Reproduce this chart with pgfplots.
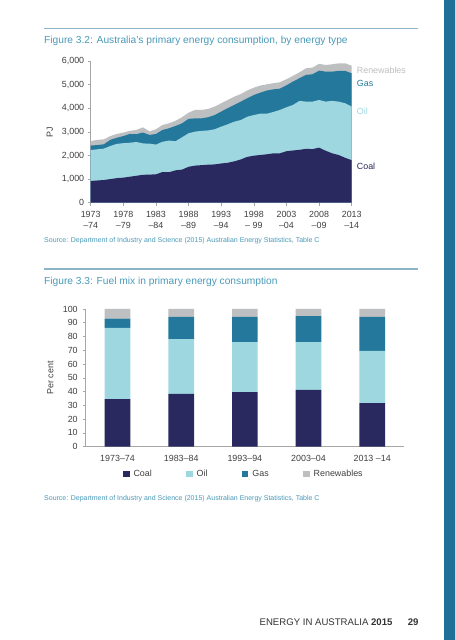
\documentclass[border=0pt]{standalone}
\usepackage{fontspec}
\setmainfont{Liberation Sans}
\usepackage{pgfplots}
\pgfplotsset{compat=1.18}
\usepackage{pgfplotstable}
\definecolor{coalc}{HTML}{29295F}
\definecolor{oilc}{HTML}{9FD7E0}
\definecolor{gasc}{HTML}{23789C}
\definecolor{renc}{HTML}{BDBFC1}
\definecolor{titlec}{HTML}{4A9AB8}
\definecolor{rulec}{HTML}{8DB5C8}
\definecolor{stripec}{HTML}{1F7099}
\definecolor{axisgray}{HTML}{A6A6A6}
\definecolor{tickgray}{HTML}{404040}
\definecolor{footc}{HTML}{333333}

% cumulative tops of the layers, PJ
\pgfplotstableread{
year coal oiltop gastop total
1973 920 2230 2420 2610
1974 940 2260 2440 2660
1975 960 2290 2470 2680
1976 1000 2400 2660 2820
1977 1040 2490 2750 2910
1978 1060 2520 2820 2970
1979 1100 2540 2910 3040
1980 1140 2570 2900 3080
1981 1180 2510 2970 3190
1982 1190 2500 2870 3020
1983 1200 2460 2910 3110
1984 1300 2580 3080 3290
1985 1290 2630 3150 3360
1986 1370 2600 3250 3470
1987 1400 2770 3360 3620
1988 1520 2940 3550 3810
1989 1570 3010 3570 3930
1990 1590 3040 3570 3930
1991 1610 3060 3620 3970
1992 1620 3110 3710 4070
1993 1660 3220 3860 4210
1994 1690 3320 4000 4350
1995 1750 3430 4140 4490
1996 1830 3500 4280 4600
1997 1940 3640 4420 4750
1998 1990 3710 4560 4870
1999 2020 3770 4660 4960
2000 2050 3770 4750 5010
2001 2090 3840 4800 5060
2002 2090 3930 4830 5100
2003 2180 4040 4970 5230
2004 2210 4140 5130 5370
2005 2240 4310 5270 5520
2006 2280 4280 5410 5690
2007 2270 4280 5440 5720
2008 2330 4350 5590 5880
2009 2200 4280 5550 5830
2010 2090 4310 5550 5860
2011 2020 4280 5580 5900
2012 1900 4210 5580 5900
2013 1800 4070 5480 5800
}\areadata

\pgfplotstableread{
x coal oil gas ren
0 34.6 51.6 6.8 7.0
1 38.3 39.9 16.0 5.8
2 39.7 36.3 18.2 5.8
3 41.2 34.8 18.9 5.1
4 31.7 37.8 24.7 5.8
}\bardata

\begin{document}
\begin{tikzpicture}[x=1pt,y=1pt]
\fill[white] (0,0) rectangle (455,640);
\fill[stripec] (444,0) rectangle (455,640);
% figure 3.2 header
\draw[rulec, line width=1.4pt] (44,611.7) -- (418,611.7);
\node[anchor=west, inner sep=0pt, text=titlec, font=\fontsize{10.2}{12}\selectfont] at (44,599.3) {Figure 3.2: Australia’s primary energy consumption, by energy type};

\begin{axis}[
  at={(90.7pt,437.3pt)}, anchor=south west, scale only axis,
  width=261pt, height=141.7pt,
  xmin=1973, xmax=2013, ymin=0, ymax=6000,
  axis x line*=bottom, axis y line*=left,
  xtick align=outside, ytick align=outside,
  axis line style={draw=axisgray, line width=0.6pt},
  major tick style={draw=axisgray, line width=0.6pt},
  major tick length=3pt,
  xtick={1973,1978,...,2013},
  xticklabels={{1973\\–74},{1978\\–79},{1983\\–84},{1988\\–89},{1993\\–94},{1998\\– 99},{2003\\–04},{2008\\–09},{2013\\–14}},
  xticklabel style={align=center, font=\fontsize{8.9}{10.8}\selectfont, text=tickgray, yshift=-2pt},
  ytick={0,1000,...,6000},
  yticklabel style={font=\fontsize{8.9}{10.8}\selectfont, text=tickgray},
  scaled y ticks=false,
  /pgf/number format/.cd, 1000 sep={,}, assume math mode=true, /pgfplots/.cd,
  ylabel={PJ},
  ylabel style={at={(axis description cs:-0.156,0.5)}, anchor=center, font=\fontsize{8.9}{10.8}\selectfont, text=tickgray},
  clip=false,
]
\addplot[fill=renc, draw=none] table[x=year,y=total]{\areadata} \closedcycle;
\addplot[fill=gasc, draw=none] table[x=year,y=gastop]{\areadata} \closedcycle;
\addplot[fill=oilc, draw=none] table[x=year,y=oiltop]{\areadata} \closedcycle;
\addplot[fill=coalc, draw=none] table[x=year,y=coal]{\areadata} \closedcycle;
\node[anchor=west, inner sep=0pt, text=renc, font=\fontsize{8.9}{10.8}\selectfont] at (axis cs:2013.77,5619) {Renewables};
\node[anchor=west, inner sep=0pt, text=gasc, font=\fontsize{8.9}{10.8}\selectfont] at (axis cs:2013.77,5047) {Gas};
\node[anchor=west, inner sep=0pt, text=oilc, font=\fontsize{8.9}{10.8}\selectfont] at (axis cs:2013.77,3883) {Oil};
\node[anchor=west, inner sep=0pt, text=coalc, font=\fontsize{8.9}{10.8}\selectfont] at (axis cs:2013.77,1554) {Coal};
\end{axis}

\node[anchor=west, inner sep=0pt, text=titlec, font=\fontsize{7}{8}\selectfont] at (44,399) {Source: Department of Industry and Science (2015) Australian Energy Statistics, Table C};

% figure 3.3 header
\draw[rulec, line width=1.4pt] (44,371) -- (418,371);
\node[anchor=west, inner sep=0pt, text=titlec, font=\fontsize{10.2}{12}\selectfont] at (44,358.3) {Figure 3.3: Fuel mix in primary energy consumption};

\begin{axis}[
  at={(85.7pt,193.3pt)}, anchor=south west, scale only axis,
  width=318.3pt, height=137.7pt,
  xmin=-0.5, xmax=4.5, ymin=0, ymax=100,
  ybar stacked, bar width=25.7pt,
  axis x line*=bottom, axis y line*=left,
  xtick align=outside, ytick align=outside,
  axis line style={draw=axisgray, line width=0.6pt},
  major tick style={draw=axisgray, line width=0.6pt},
  major tick length=3pt,
  x tick style={draw=none},
  xtick={0,1,2,3,4},
  xticklabels={1973–74,1983–84,1993–94,2003–04,2013 –14},
  xticklabel style={font=\fontsize{8.9}{10.8}\selectfont, text=tickgray, yshift=-2.5pt},
  ytick={0,10,...,100},
  yticklabel style={font=\fontsize{8.9}{10.8}\selectfont, text=tickgray, xshift=-1.5pt},
  /pgf/number format/assume math mode=true,
  ylabel={Per cent},
  ylabel style={at={(axis description cs:-0.111,0.5)}, anchor=center, font=\fontsize{8.9}{10.8}\selectfont, text=tickgray},
  legend columns=4,
  legend style={at={(axis description cs:0.497,-0.2)}, anchor=center, draw=none, fill=none,
    font=\fontsize{8.9}{10.8}\selectfont, text=tickgray,
    /tikz/every odd column/.append style={column sep=2pt},
    /tikz/every even column/.append style={column sep=32.5pt}},
  legend image code/.code={\fill[#1] (0pt,-3.2pt) rectangle (6.4pt,3.2pt);},
]
\addplot[fill=coalc, draw=none] table[x=x,y=coal]{\bardata};
\addplot[fill=oilc, draw=none] table[x=x,y=oil]{\bardata};
\addplot[fill=gasc, draw=none] table[x=x,y=gas]{\bardata};
\addplot[fill=renc, draw=none] table[x=x,y=ren]{\bardata};
\legend{Coal,Oil,Gas,Renewables}
\end{axis}

\node[anchor=west, inner sep=0pt, text=titlec, font=\fontsize{7}{8}\selectfont] at (44,141) {Source: Department of Industry and Science (2015) Australian Energy Statistics, Table C};

% footer
\node[anchor=east, inner sep=0pt, text=footc, font=\fontsize{9.6}{11}\selectfont] at (392.7,18.3) {ENERGY IN AUSTRALIA \textbf{2015}};
\node[anchor=west, inner sep=0pt, text=footc, font=\fontsize{9.6}{11}\selectfont] at (407.7,18.3) {\textbf{29}};
\end{tikzpicture}
\end{document}
